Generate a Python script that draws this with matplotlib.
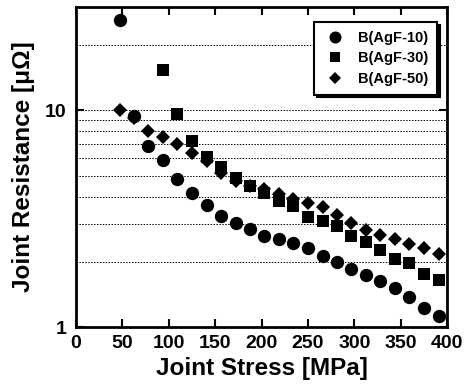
import matplotlib
matplotlib.use("Agg")
import matplotlib.pyplot as plt
from matplotlib.ticker import FixedLocator, NullFormatter, FixedFormatter

# ---- data ----
stress = [47, 63, 78, 94, 109, 125, 141, 156, 172, 188, 203, 219, 234,
          250, 266, 281, 297, 313, 328, 344, 359, 375, 391]
agf10 = [26.2, 9.4, 6.83, 5.9, 4.83, 4.16, 3.64, 3.27, 3.02, 2.83, 2.62, 2.55,
         2.44, 2.31, 2.12, 1.99, 1.85, 1.74, 1.63, 1.52, 1.37, 1.22, 1.12]
stress30 = stress[3:]
agf30 = [15.3, 9.58, 7.25, 6.12, 5.47, 4.86, 4.48, 4.15, 3.82, 3.6, 3.22, 3.07,
         2.93, 2.64, 2.48, 2.27, 2.06, 1.97, 1.76, 1.64]
agf50 = [10.0, 9.2, 8.0, 7.53, 6.98, 6.37, 5.83, 5.15, 4.72, 4.47, 4.32, 4.09,
         3.88, 3.72, 3.58, 3.30, 3.02, 2.81, 2.67, 2.55, 2.42, 2.31, 2.18]
labels = ["B(AgF-10)", "B(AgF-30)", "B(AgF-50)"]
xticks = [0, 50, 100, 150, 200, 250, 300, 350, 400]
yticks = [1, 10]
ygrid = [2, 3, 4, 5, 6, 7, 8, 9, 10, 20]

plt.rcParams['font.family'] = ['Liberation Sans', 'DejaVu Sans']
plt.rcParams['font.weight'] = 'bold'

fig = plt.figure(figsize=(4.70, 3.85), dpi=100)
ax = fig.add_axes([76/470, 1-327/385, 371/470, 320/385])

ax.set_yscale('log')
ax.set_xlim(0, 400)
ax.set_ylim(1, 30)

for yv in ygrid:
    ax.axhline(yv, color='black', lw=0.7, ls=(0, (1.5, 1.5)), zorder=1)

ax.plot(stress, agf10, 'o', color='black', ms=9.6, mew=0, label=labels[0], zorder=3)
ax.plot(stress30, agf30, 's', color='black', ms=8.6, mew=0, label=labels[1], zorder=3)
ax.plot(stress, agf50, 'D', color='black', ms=6.9, mew=0, label=labels[2], zorder=3)

ax.xaxis.set_major_locator(FixedLocator(xticks))
ax.yaxis.set_major_locator(FixedLocator(yticks))
ax.yaxis.set_major_formatter(FixedFormatter([str(v) for v in yticks]))
ax.yaxis.set_minor_locator(FixedLocator([]))
ax.yaxis.set_minor_formatter(NullFormatter())

ax.tick_params(axis='both', which='major', direction='in', length=6, width=1.5,
               top=True, right=True, labelsize=14)
ax.tick_params(axis='x', pad=6)
ax.tick_params(axis='y', pad=7)
for lab in ax.get_xticklabels() + ax.get_yticklabels():
    lab.set_fontweight('bold')

for sp in ax.spines.values():
    sp.set_linewidth(2)

ax.set_xlabel('Joint Stress [MPa]', fontsize=17.5, fontweight='bold', labelpad=3)
ax.set_ylabel('Joint Resistance [μΩ]', fontsize=17.5, fontweight='bold', labelpad=7)

leg = ax.legend(loc='upper right', bbox_to_anchor=(0.973, 0.953), borderaxespad=0,
                fancybox=False,
                shadow={'facecolor': 'black', 'edgecolor': 'black', 'alpha': 1},
                edgecolor='black', framealpha=1, prop={'size': 10.5, 'weight': 'bold'},
                handletextpad=0.7, borderpad=0.6, labelspacing=0.45,
                handlelength=1.7, markerscale=0.9)
leg.get_frame().set_linewidth(1.5)

fig.savefig('out.png', dpi=100)
